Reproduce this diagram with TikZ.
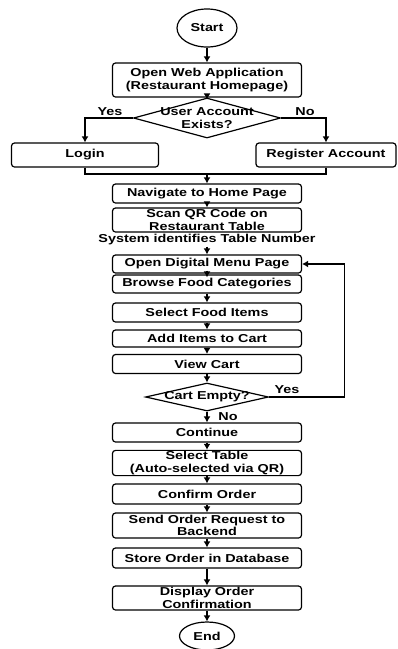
\documentclass[tikz,border=0pt]{standalone}
\usepackage{fontspec}
\setmainfont{Liberation Sans}[FakeStretch=1.25]
\usepackage{tikz}
\usetikzlibrary{shapes.geometric,arrows.meta}

\begin{document}
\begin{tikzpicture}[x=1pt,y=-1pt,
  every node/.style={font=\bfseries\fontsize{11.5}{12.5}\selectfont},
  box/.style={draw,rounded corners=3pt,line width=1.2pt,fill=white,minimum width=189pt,minimum height=19pt,inner sep=1pt,align=center},
  term/.style={draw,ellipse,line width=1.2pt,inner sep=0pt},
  decision/.style={draw,diamond,line width=1.2pt,inner sep=0pt},
  flow/.style={line width=1.2pt,->,>={Latex[length=6pt,width=7pt]}},
  link/.style={line width=1.2pt}]
\useasboundingbox[fill=white] (0,0) rectangle (397,649);

\node[term,minimum width=60pt,minimum height=38pt] (start) at (207,28) {Start};
\node[box,minimum height=34pt] (web) at (207,80) {Open Web Application\\(Restaurant Homepage)};
\node[decision,minimum width=147pt,minimum height=40pt] (acc) at (207,118) {};
\node[align=center] at (acc) {User Account\\Exists?};
\node[box,minimum width=147pt,minimum height=24pt] (login) at (85,155) {Login};
\node[box,minimum width=140pt,minimum height=24pt] (reg) at (326,155) {Register Account};
\coordinate (merge) at (207,174);
\node[box] (nav) at (207,193.5) {Navigate to Home Page};
\node[box,minimum height=24pt] (scan) at (207,220) {Scan QR Code on\\Restaurant Table};
\node[inner sep=1pt] (sys) at (207,240) {System identifies Table Number};
\node[box,minimum height=18pt] (menu) at (207,264) {Open Digital Menu Page};
\node[box,minimum height=18pt] (browse) at (207,284) {Browse Food Categories};
\node[box] (select) at (207,312.5) {Select Food Items};
\node[box,minimum height=17pt] (add) at (207,338.5) {Add Items to Cart};
\node[box] (view) at (207,364) {View Cart};
\node[decision,minimum width=123pt,minimum height=28pt] (cart) at (207,397) {};
\node at (cart) {Cart Empty?};
\node[box] (cont) at (207,432.5) {Continue};
\node[box,minimum height=24pt] (table) at (207,463) {Select Table\\(Auto-selected via QR)};
\node[box,minimum height=20pt] (confirm) at (207,494) {Confirm Order};
\node[box,minimum height=25pt] (send) at (207,525.5) {Send Order Request to\\Backend};
\node[box,minimum height=20pt] (store) at (207,558) {Store Order in Database};
\node[box,minimum height=24pt] (disp) at (207,598) {Display Order\\Confirmation};
\node[term,minimum width=55pt,minimum height=28pt] (end) at (207,636) {End};

\draw[flow] (start) -- (web);
\draw[flow] ([yshift=4pt]web.south) -- ([yshift=-2pt]acc.north);
\draw[flow] (acc.west) -| (login.north);
\draw[flow] (acc.east) -| (reg.north);
\node at (110,112) {Yes};
\node at (305,112) {No};
\draw[link] (login.south) |- (merge);
\draw[link] (reg.south) |- (merge);
\draw[flow] (merge) -- (nav);
\draw[flow] ([yshift=2pt]nav.south) -- (scan.north);
\draw[flow] (sys) -- (menu);
\draw[flow] ([yshift=3pt]menu.south) -- ([yshift=-3pt]browse.north);
\draw[flow] (browse) -- (select);
\draw[flow] (select) -- (add);
\draw[flow] (add) -- (view);
\draw[flow] (view) -- (cart);
\draw[flow] (cart.east) -- ++(75,0) |- (menu.east);
\node at (287,390) {Yes};
\draw[flow] (cart) -- (cont);
\node at (228,417) {No};
\draw[flow] (cont) -- (table);
\draw[flow] (table) -- (confirm);
\draw[flow] (confirm) -- (send);
\draw[flow] (send) -- (store);
\draw[flow] (store) -- (disp);
\draw[flow] (disp) -- (end);
\end{tikzpicture}
\end{document}
